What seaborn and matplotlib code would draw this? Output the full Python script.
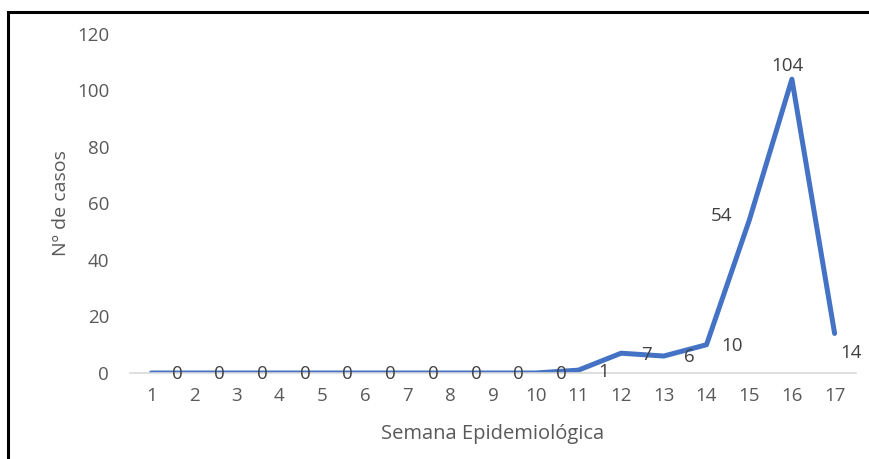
import matplotlib
matplotlib.use('Agg')
import matplotlib.pyplot as plt
import seaborn as sns
import pandas as pd
from matplotlib.patches import Rectangle

# datos
semanas = list(range(1, 18))
casos = [0, 0, 0, 0, 0, 0, 0, 0, 0, 0, 1, 7, 6, 10, 54, 104, 14]
etiquetas = [str(c) for c in casos]

df = pd.DataFrame({"semana": semanas, "casos": casos})

sns.set_theme(style="white")
plt.rcParams['font.family'] = ['Open Sans', 'DejaVu Sans']
gris = "#595959"

fig = plt.figure(figsize=(8.69, 4.59), dpi=100)
ax = fig.add_axes([0.1496, 0.1874, 0.8354, 0.7386])

sns.lineplot(data=df, x="semana", y="casos", color="#4472C4", linewidth=3.6,
             ax=ax, solid_capstyle="round", solid_joinstyle="round")

# etiquetas de datos (desplazadas como en el original)
for s, c, t in zip(semanas, casos, etiquetas):
    if s <= 14:
        dx, dy = 0.6, -0.5
    elif s == 15:
        dx, dy = -0.65, 1.5
    elif s == 16:
        dx, dy = -0.1, 4.5
    else:
        dx, dy = 0.38, -7
    ax.text(s + dx, c + dy, t, ha="center", va="center", fontsize=13.5, color="#404040")

ax.set_xlim(0.5, 17.5)
ax.set_ylim(0, 120)
ax.set_xticks(semanas)
ax.set_yticks(range(0, 121, 20))
ax.tick_params(axis="both", length=0, labelsize=13.5, labelcolor=gris)
ax.tick_params(axis="x", pad=10)
ax.tick_params(axis="y", pad=15)

for side in ["top", "right", "left"]:
    ax.spines[side].set_visible(False)
ax.spines["bottom"].set_color("#D9D9D9")
ax.spines["bottom"].set_linewidth(1.2)

ax.set_xlabel("Semana Epidemiológica", fontsize=14.5, color=gris, labelpad=14)
ax.set_ylabel("Nº de casos", fontsize=14, color=gris, labelpad=5)

# marco
fig.patches.append(Rectangle((8 / 869, -0.1), 1.2, 1 - 12 / 459 + 0.1,
                             transform=fig.transFigure, fill=False,
                             edgecolor="black", linewidth=2.2))

fig.savefig("out.png", dpi=100)
